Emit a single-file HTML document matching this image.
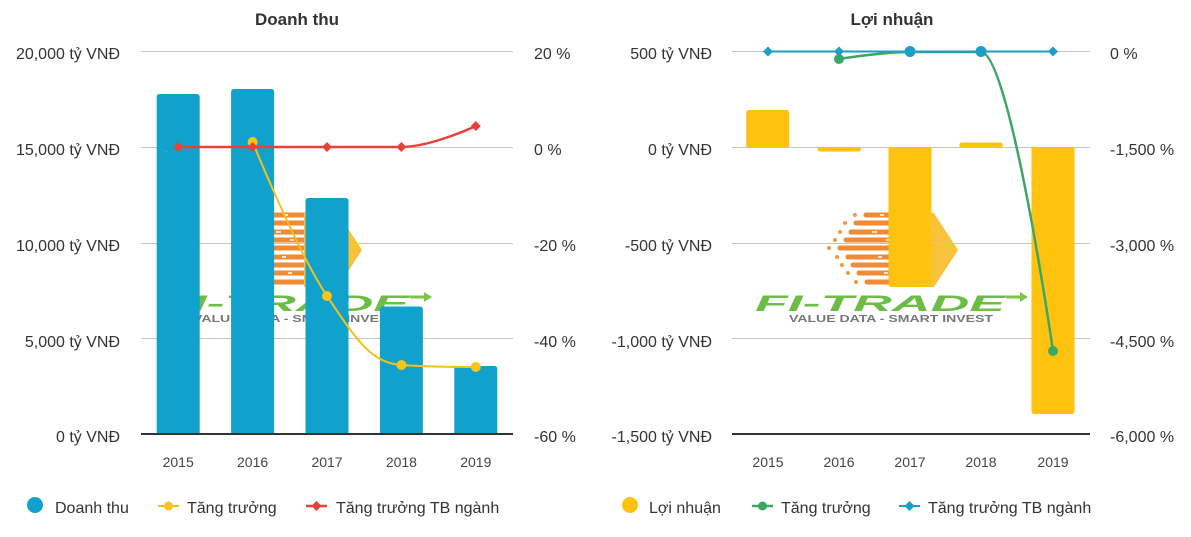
<!DOCTYPE html>
<html><head><meta charset="utf-8">
<style>
html,body{margin:0;padding:0;background:#fff;}
svg{display:block;font-family:"Liberation Sans",Arial,sans-serif;}
</style></head>
<body>
<svg width="1191" height="537" viewBox="0 0 1191 537" xmlns="http://www.w3.org/2000/svg">
<defs>
  <g id="logo">
    <g stroke="#f08a35" stroke-width="5" stroke-linecap="round" fill="none">
      <line x1="866" y1="215" x2="902" y2="215"/>
      <line x1="856" y1="223" x2="902" y2="223"/>
      <line x1="851" y1="232" x2="902" y2="232"/>
      <line x1="846" y1="240" x2="902" y2="240"/>
      <line x1="840" y1="248" x2="902" y2="248"/>
      <line x1="848" y1="257" x2="902" y2="257"/>
      <line x1="853" y1="265" x2="902" y2="265"/>
      <line x1="859" y1="273" x2="902" y2="273"/>
      <line x1="867" y1="282" x2="902" y2="282"/>
    </g>
    <g fill="#f29a40">
      <circle cx="855" cy="215" r="2"/>
      <circle cx="845" cy="223" r="2"/>
      <circle cx="840" cy="232" r="2"/>
      <circle cx="835" cy="240" r="2"/>
      <circle cx="829" cy="248" r="2"/>
      <circle cx="837" cy="257" r="2"/>
      <circle cx="842" cy="265" r="2"/>
      <circle cx="848" cy="273" r="2"/>
      <circle cx="856" cy="282" r="2"/>
    </g>
    <g stroke="#fff" stroke-width="1.6">
      <line x1="880" y1="215" x2="884" y2="215"/>
      <line x1="872" y1="232" x2="877" y2="232"/>
      <line x1="886" y1="240" x2="890" y2="240"/>
      <line x1="878" y1="257" x2="882" y2="257"/>
      <line x1="884" y1="273" x2="888" y2="273"/>
    </g>
    <polygon points="900,213 934,213 958,250 934,287 900,287" fill="#f8c23a"/>
    <text x="755" y="311" font-size="22" font-weight="bold" font-style="italic" fill="#6cbd45" textLength="250" lengthAdjust="spacingAndGlyphs">FI-TRADE</text>
    <path d="M1006,297 L1022,297" stroke="#7cc44a" stroke-width="3"/>
    <path d="M1020,292 L1028,297 L1020,302 Z" fill="#7cc44a"/>
    <text x="789" y="322" font-size="10" font-weight="bold" fill="#777" textLength="204" lengthAdjust="spacingAndGlyphs">VALUE DATA - SMART INVEST</text>
  </g>
</defs>

<!-- ============ LEFT CHART ============ -->
<text x="297" y="25" font-size="17" font-weight="bold" fill="#333" text-anchor="middle">Doanh thu</text>

<use href="#logo" transform="translate(-596,0)"/>

<g stroke="#c4c4c4" stroke-width="1">
  <line x1="141" y1="51.5" x2="513" y2="51.5"/>
  <line x1="141" y1="147.5" x2="513" y2="147.5"/>
  <line x1="141" y1="243.5" x2="513" y2="243.5"/>
  <line x1="141" y1="338.5" x2="513" y2="338.5"/>
</g>

<g fill="#333" font-size="16" text-anchor="end">
  <text x="120" y="59">20,000 tỷ VNĐ</text>
  <text x="120" y="155">15,000 tỷ VNĐ</text>
  <text x="120" y="251">10,000 tỷ VNĐ</text>
  <text x="120" y="347">5,000 tỷ VNĐ</text>
  <text x="120" y="442">0 tỷ VNĐ</text>
</g>
<g fill="#333" font-size="16">
  <text x="534" y="59">20 %</text>
  <text x="534" y="155">0 %</text>
  <text x="534" y="251">-20 %</text>
  <text x="534" y="347">-40 %</text>
  <text x="534" y="442">-60 %</text>
</g>

<g fill="#10a1cc">
  <path d="M156.7,434 L156.7,97 Q156.7,94 159.7,94 L196.7,94 Q199.7,94 199.7,97 L199.7,434 Z"/>
  <path d="M231.1,434 L231.1,92 Q231.1,89 234.1,89 L271.1,89 Q274.1,89 274.1,92 L274.1,434 Z"/>
  <path d="M305.5,434 L305.5,201 Q305.5,198 308.5,198 L345.5,198 Q348.5,198 348.5,201 L348.5,434 Z"/>
  <path d="M379.9,434 L379.9,309.5 Q379.9,306.5 382.9,306.5 L419.9,306.5 Q422.9,306.5 422.9,309.5 L422.9,434 Z"/>
  <path d="M454.3,434 L454.3,369 Q454.3,366 457.3,366 L494.3,366 Q497.3,366 497.3,369 L497.3,434 Z"/>
</g>

<line x1="141" y1="434" x2="513" y2="434" stroke="#333" stroke-width="2"/>

<g fill="#444" font-size="14" text-anchor="middle">
  <text x="178.2" y="467">2015</text>
  <text x="252.6" y="467">2016</text>
  <text x="327" y="467">2017</text>
  <text x="401.4" y="467">2018</text>
  <text x="475.8" y="467">2019</text>
</g>

<path d="M252.6,142 C252.6,142 297.2,251.4 327,296 C356.8,340.6 371.6,363 401.4,365 C431.2,367 475.8,367 475.8,367" fill="none" stroke="#f2c21b" stroke-width="2"/>
<g fill="#f5c518">
  <circle cx="252.6" cy="142" r="5"/>
  <circle cx="327" cy="296" r="5"/>
  <circle cx="401.4" cy="365" r="5"/>
  <circle cx="475.8" cy="367" r="5"/>
</g>

<path d="M178.2,147 L401.4,147 C431.2,147 475.8,126 475.8,126" fill="none" stroke="#e8403a" stroke-width="2.5"/>
<g fill="#e8403a">
  <path d="M178.2,142 L183.2,147 L178.2,152 L173.2,147 Z"/>
  <path d="M252.6,142 L257.6,147 L252.6,152 L247.6,147 Z"/>
  <path d="M327,142 L332,147 L327,152 L322,147 Z"/>
  <path d="M401.4,142 L406.4,147 L401.4,152 L396.4,147 Z"/>
  <path d="M475.8,121 L480.8,126 L475.8,131 L470.8,126 Z"/>
</g>

<circle cx="35" cy="505" r="8" fill="#10a1cc"/>
<text x="55" y="513" font-size="16" fill="#333">Doanh thu</text>
<line x1="158" y1="506" x2="179" y2="506" stroke="#f2c21b" stroke-width="2"/>
<circle cx="168.5" cy="506" r="4.5" fill="#f5c518"/>
<text x="187" y="513" font-size="16" fill="#333">Tăng trưởng</text>
<line x1="306" y1="506" x2="327" y2="506" stroke="#e8403a" stroke-width="2.5"/>
<path d="M316.5,501 L321.5,506 L316.5,511 L311.5,506 Z" fill="#e8403a"/>
<text x="336" y="513" font-size="16" fill="#333">Tăng trưởng TB ngành</text>

<!-- ============ RIGHT CHART ============ -->
<text x="892" y="25" font-size="17" font-weight="bold" fill="#333" text-anchor="middle">Lợi nhuận</text>

<use href="#logo"/>

<g stroke="#c4c4c4" stroke-width="1">
  <line x1="732" y1="51.5" x2="1090" y2="51.5"/>
  <line x1="732" y1="147.5" x2="1090" y2="147.5"/>
  <line x1="732" y1="243.5" x2="1090" y2="243.5"/>
  <line x1="732" y1="338.5" x2="1090" y2="338.5"/>
</g>

<g fill="#333" font-size="16" text-anchor="end">
  <text x="712" y="59">500 tỷ VNĐ</text>
  <text x="712" y="155">0 tỷ VNĐ</text>
  <text x="712" y="251">-500 tỷ VNĐ</text>
  <text x="712" y="347">-1,000 tỷ VNĐ</text>
  <text x="712" y="442">-1,500 tỷ VNĐ</text>
</g>
<g fill="#333" font-size="16">
  <text x="1110" y="59">0 %</text>
  <text x="1110" y="155">-1,500 %</text>
  <text x="1110" y="251">-3,000 %</text>
  <text x="1110" y="347">-4,500 %</text>
  <text x="1110" y="442">-6,000 %</text>
</g>

<g fill="#ffc20f">
  <path d="M746.2,147 L746.2,113 Q746.2,110 749.2,110 L786.2,110 Q789.2,110 789.2,113 L789.2,147 Z"/>
  <path d="M817.8,147 L817.8,149.5 Q817.8,151.5 819.8,151.5 L858.8,151.5 Q860.8,151.5 860.8,149.5 L860.8,147 Z"/>
  <path d="M888.5,147 L888.5,284 Q888.5,287 891.5,287 L928.5,287 Q931.5,287 931.5,284 L931.5,147 Z"/>
  <path d="M959.5,147 L959.5,145 Q959.5,142.5 962,142.5 L1000,142.5 Q1002.5,142.5 1002.5,145 L1002.5,147 Z"/>
  <path d="M1031.5,147 L1031.5,411 Q1031.5,414 1034.5,414 L1071.5,414 Q1074.5,414 1074.5,411 L1074.5,147 Z"/>
</g>

<line x1="732" y1="434" x2="1090" y2="434" stroke="#333" stroke-width="2"/>

<g fill="#444" font-size="14" text-anchor="middle">
  <text x="768" y="467">2015</text>
  <text x="839" y="467">2016</text>
  <text x="910" y="467">2017</text>
  <text x="981" y="467">2018</text>
  <text x="1053" y="467">2019</text>
</g>

<path d="M839,59 C839,59 881.6,52 910,52 L981,52 C1009.8,52 1053,351 1053,351" fill="none" stroke="#3aa864" stroke-width="2.5"/>
<circle cx="839" cy="59" r="5" fill="#3aa864"/>
<circle cx="1053" cy="351" r="5" fill="#3aa864"/>

<line x1="768" y1="51.5" x2="1053" y2="51.5" stroke="#1d9ec6" stroke-width="2"/>
<g fill="#1d9ec6">
  <path d="M768,46.5 L773,51.5 L768,56.5 L763,51.5 Z"/>
  <path d="M839,46.5 L844,51.5 L839,56.5 L834,51.5 Z"/>
  <circle cx="910" cy="51.5" r="5.5"/>
  <circle cx="981" cy="51.5" r="5.5"/>
  <path d="M1053,46.5 L1058,51.5 L1053,56.5 L1048,51.5 Z"/>
</g>

<circle cx="630" cy="505" r="8" fill="#ffc20f"/>
<text x="649" y="513" font-size="16" fill="#333">Lợi nhuận</text>
<line x1="752" y1="506" x2="773" y2="506" stroke="#3aa864" stroke-width="2.5"/>
<circle cx="762.5" cy="506" r="4.5" fill="#3aa864"/>
<text x="781" y="513" font-size="16" fill="#333">Tăng trưởng</text>
<line x1="899" y1="506" x2="920" y2="506" stroke="#1d9ec6" stroke-width="2"/>
<path d="M909.5,501 L914.5,506 L909.5,511 L904.5,506 Z" fill="#1d9ec6"/>
<text x="928" y="513" font-size="16" fill="#333">Tăng trưởng TB ngành</text>
</svg>
</body></html>
